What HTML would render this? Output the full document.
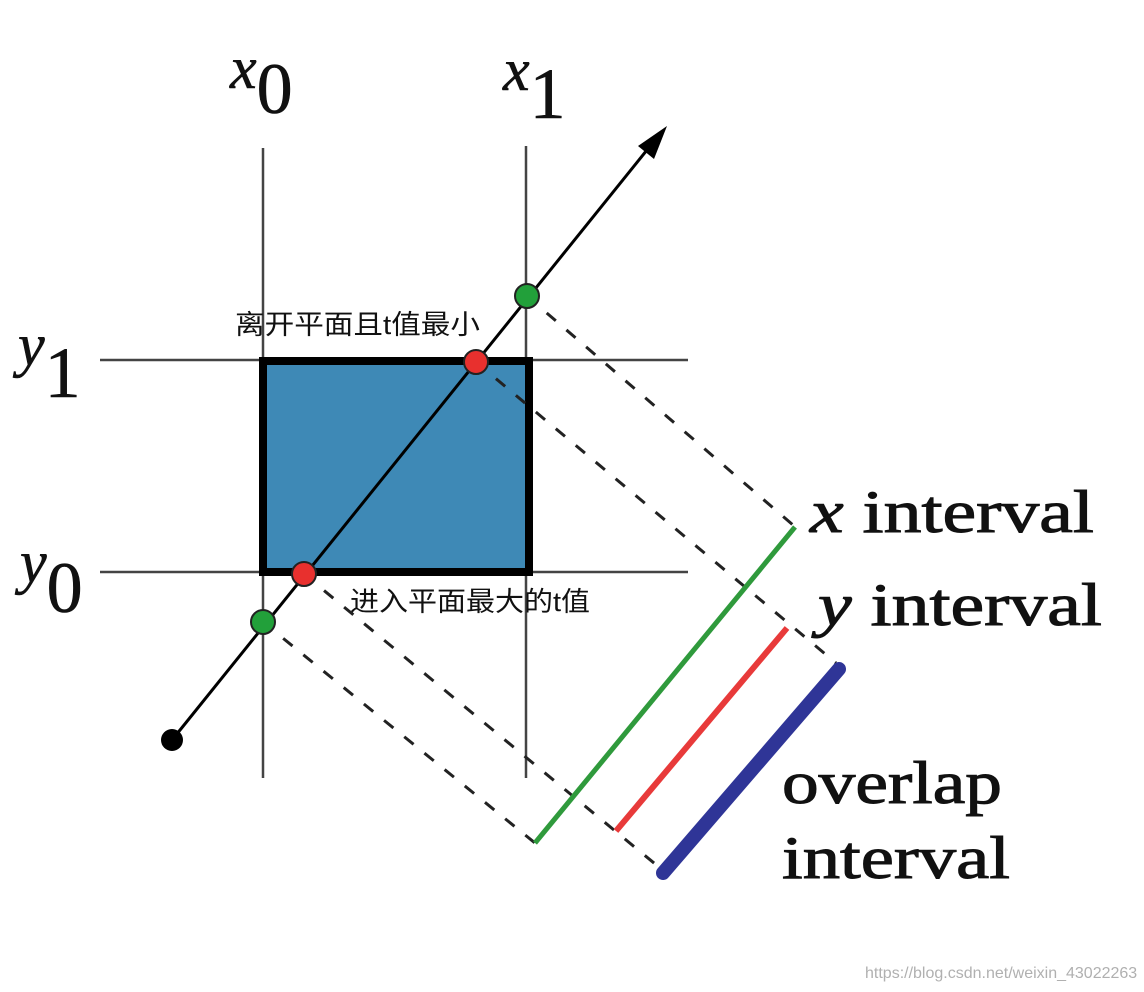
<!DOCTYPE html>
<html><head><meta charset="utf-8">
<style>
html,body{margin:0;padding:0;background:#fff;}
svg{display:block;}
</style></head>
<body>
<svg id="fig" width="1144" height="992" viewBox="0 0 1144 992">
  <rect x="0" y="0" width="1144" height="992" fill="#fff"/>
  <line x1="263" y1="148" x2="263" y2="778" stroke="#444" stroke-width="2.5"/>
  <line x1="526" y1="146" x2="526" y2="778" stroke="#444" stroke-width="2.5"/>
  <line x1="100" y1="360" x2="688" y2="360" stroke="#444" stroke-width="2.5"/>
  <line x1="100" y1="572" x2="688" y2="572" stroke="#444" stroke-width="2.5"/>
  <rect x="263" y="361" width="266" height="211" fill="#3e89b6" stroke="#000" stroke-width="8"/>
  <g id="dashes"></g>
  <line x1="172" y1="740" x2="655" y2="140" stroke="#000" stroke-width="3"/>
  <polygon points="667,126 638,146 654,159" fill="#000"/>
  <circle cx="172" cy="740" r="11" fill="#000"/>
  <g id="dots"></g>
  <g id="intervals"></g>
  <g font-family="'Liberation Serif', serif" fill="#111" stroke="#111" stroke-width="0.6">
    <text x="230" y="88" font-size="60" font-style="italic">x<tspan font-style="normal" font-size="72" dy="25">0</tspan></text>
    <text x="503" y="90" font-size="60" font-style="italic">x<tspan font-style="normal" font-size="72" dy="28">1</tspan></text>
    <text x="18" y="365" font-size="60" font-style="italic">y<tspan font-style="normal" font-size="72" dy="32">1</tspan></text>
    <text x="20" y="582" font-size="60" font-style="italic">y<tspan font-style="normal" font-size="72" dy="30">0</tspan></text>
  </g>
  <g font-family="'Liberation Serif', serif" fill="#111" stroke="#111" stroke-width="1">
    <text x="810" y="532" font-size="60" textLength="284" lengthAdjust="spacingAndGlyphs"><tspan font-style="italic">x</tspan> interval</text>
    <text x="818" y="625" font-size="60" textLength="284" lengthAdjust="spacingAndGlyphs"><tspan font-style="italic">y</tspan> interval</text>
    <text x="782" y="803" font-size="60" textLength="220" lengthAdjust="spacingAndGlyphs">overlap</text>
    <text x="782" y="878" font-size="60" textLength="228" lengthAdjust="spacingAndGlyphs">interval</text>
  </g>
  <g font-family="'Liberation Sans','Noto Sans CJK SC',sans-serif" fill="#111" font-size="27">
    <text x="235" y="334" textLength="245" lengthAdjust="spacingAndGlyphs">离开平面且t值最小</text>
    <text x="350" y="611" textLength="240" lengthAdjust="spacingAndGlyphs">进入平面最大的t值</text>
  </g>
  <text x="865" y="978" font-family="'Liberation Sans',sans-serif" font-size="16" fill="#b0b0b0">https://blog.csdn.net/weixin_43022263</text>
</svg>
<script>
const dotX = [263, 527, 304, 476];
const dotY = [622, 296, 574, 362];
const dotColors = ['#22a03a', '#22a03a', '#e8302e', '#e8302e'];
const dotNames = ['x-enter-point', 'x-exit-point', 'y-enter-point', 'y-exit-point'];
const dashX1 = [527, 476, 304, 263];
const dashY1 = [296, 362, 574, 622];
const dashX2 = [793, 836, 660, 535];
const dashY2 = [525, 663, 868, 843];
const intX1 = [535, 616, 663];
const intY1 = [843, 831, 873];
const intX2 = [795, 787, 839];
const intY2 = [527, 628, 669];
const intColors = ['#2f9a3c', '#e83a3a', '#2f3597'];
const intWidths = [5, 6, 14];
const intNames = ['x-interval', 'y-interval', 'overlap-interval'];

const NS = 'http://www.w3.org/2000/svg';
const dg = document.getElementById('dashes');
for (let i = 0; i < dashX1.length; i++) {
  const l = document.createElementNS(NS, 'line');
  l.setAttribute('x1', dashX1[i]); l.setAttribute('y1', dashY1[i]);
  l.setAttribute('x2', dashX2[i]); l.setAttribute('y2', dashY2[i]);
  l.setAttribute('stroke', '#222'); l.setAttribute('stroke-width', '3');
  l.setAttribute('stroke-dasharray', '12 14');
  
  
  dg.appendChild(l);
}
const ig = document.getElementById('intervals');
for (let i = 0; i < intX1.length; i++) {
  const l = document.createElementNS(NS, 'line');
  l.setAttribute('x1', intX1[i]); l.setAttribute('y1', intY1[i]);
  l.setAttribute('x2', intX2[i]); l.setAttribute('y2', intY2[i]);
  l.setAttribute('stroke', intColors[i]); l.setAttribute('stroke-width', intWidths[i]);
  l.setAttribute('stroke-linecap', i === 2 ? 'round' : 'butt');
  
  
  ig.appendChild(l);
}
const pg = document.getElementById('dots');
for (let i = 0; i < dotX.length; i++) {
  const c = document.createElementNS(NS, 'circle');
  c.setAttribute('cx', dotX[i]); c.setAttribute('cy', dotY[i]); c.setAttribute('r', 12);
  c.setAttribute('fill', dotColors[i]); c.setAttribute('stroke', '#222'); c.setAttribute('stroke-width', '2');
  
  
  pg.appendChild(c);
}
</script>
</body></html>
